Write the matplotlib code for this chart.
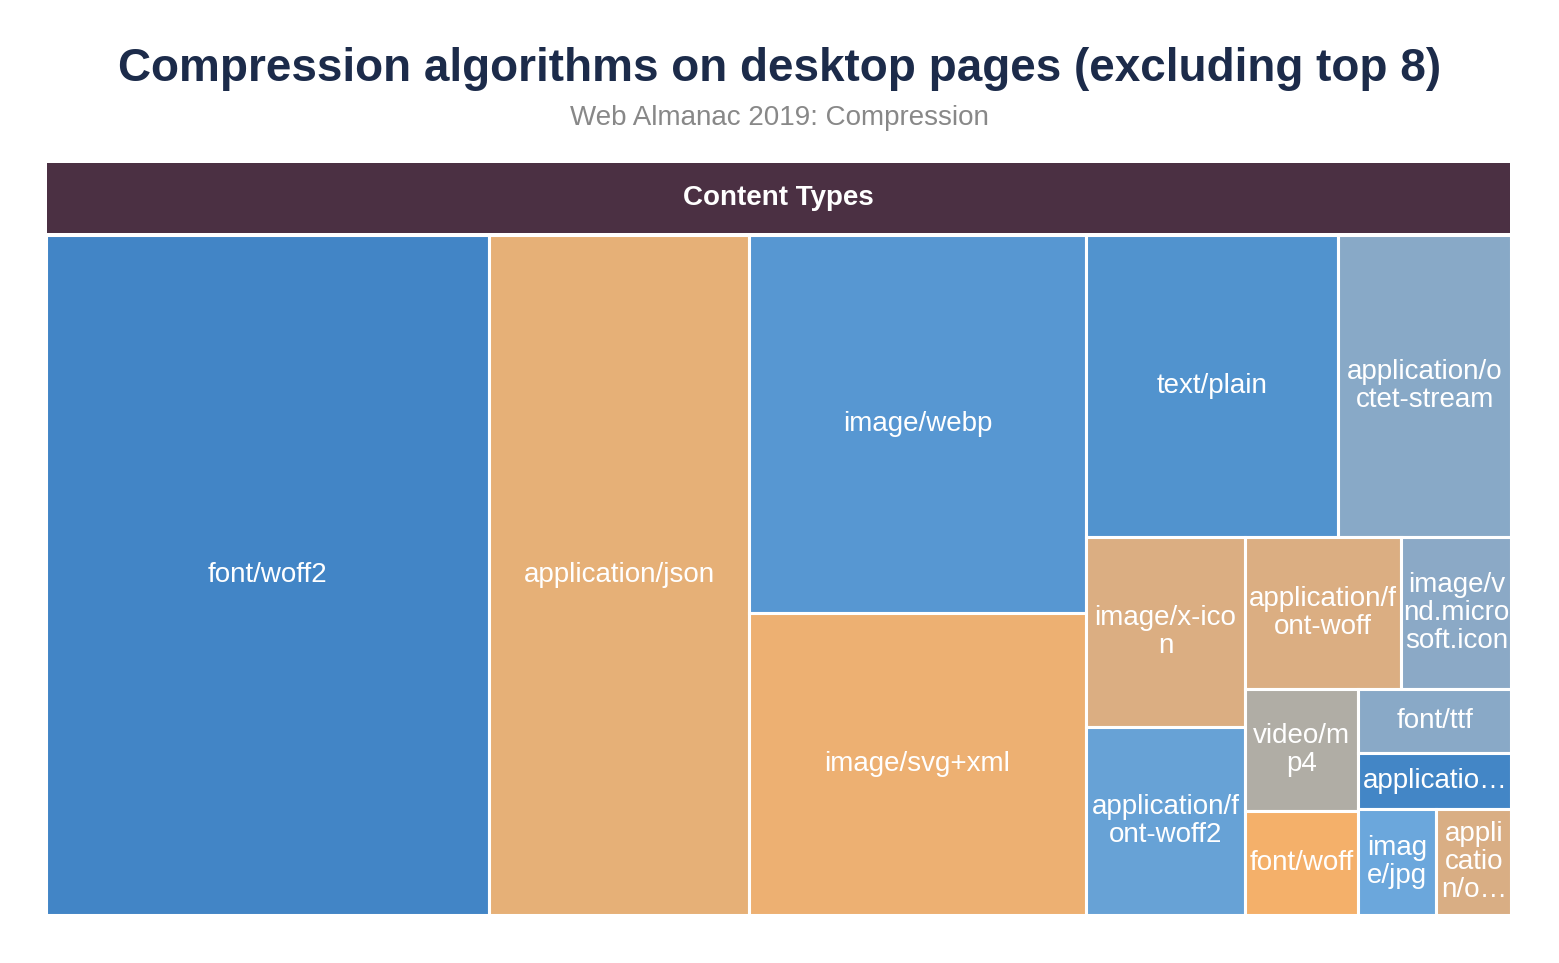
import matplotlib
matplotlib.use('Agg')
import matplotlib.pyplot as plt
import matplotlib.patches as patches

# ============================================================
# DATA
# ============================================================
TITLE = 'Compression algorithms on desktop pages (excluding top 8)'
SUBTITLE = 'Web Almanac 2019: Compression'
HEADER = 'Content Types'

content_types = [
    'font/woff2', 'application/json', 'image/webp', 'image/svg+xml',
    'text/plain', 'application/octet-stream', 'image/x-icon',
    'application/font-woff2', 'application/font-woff',
    'image/vnd.microsoft.icon', 'video/mp4', 'font/woff', 'font/ttf',
    'application/x-font-ttf', 'image/jpg', 'application/x-font-otf',
]
requests = [29968, 17628, 12667, 10114, 7585, 5207, 3021, 2973,
            2371, 1672, 1379, 1164, 979, 857, 819, 788]
# labels as they are wrapped / cut inside the cells
labels = [
    'font/woff2', 'application/json', 'image/webp', 'image/svg+xml',
    'text/plain', 'application/o\nctet-stream', 'image/x-ico\nn',
    'application/f\nont-woff2', 'application/f\nont-woff',
    'image/v\nnd.micro\nsoft.icon', 'video/m\np4', 'font/woff', 'font/ttf',
    'applicatio…', 'imag\ne/jpg', 'appli\ncatio\nn/o…',
]
colors = [
    '#4285c6', '#e6b077', '#5797d2', '#edb072', '#5193ce', '#88a9c7',
    '#dbae82', '#67a2d6', '#dbae82', '#8ba9c6', '#b0ada5', '#f4b06a',
    '#89a9c7', '#4386c6', '#6ba7dc', '#d9ae84',
]
# strips of the layout: ('col' = full height, 'row' = full width)
strips = [
    ('col', [0]), ('col', [1]), ('col', [2, 3]), ('row', [4, 5]),
    ('col', [6, 7]), ('row', [8, 9]), ('col', [10, 11]),
    ('row', [12]), ('row', [13]), ('row', [14, 15]),
]

W_PX, H_PX = 1559, 963
FONT = ['Liberation Sans', 'DejaVu Sans']


def strip_layout(values, strips, width, height):
    rects = {}
    x, y, w, h = 0.0, 0.0, width, height
    remaining = float(sum(values))
    for orient, idxs in strips:
        s = float(sum(values[i] for i in idxs))
        frac = s / remaining
        if orient == 'col':
            sw = w * frac
            cy = y
            for i in idxs:
                ih = h * values[i] / s
                rects[i] = (x, cy, sw, ih)
                cy += ih
            x += sw
            w -= sw
        else:
            sh = h * frac
            cx = x
            for i in idxs:
                iw = w * values[i] / s
                rects[i] = (cx, y, iw, sh)
                cx += iw
            y += sh
            h -= sh
        remaining -= s
    return rects


def fig_box(left, top, right, bottom):
    return [left / W_PX, 1 - bottom / H_PX, (right - left) / W_PX, (bottom - top) / H_PX]


fig = plt.figure(figsize=(W_PX / 100, H_PX / 100), dpi=100)
fig.patch.set_facecolor('white')

fig.text(0.5, 1 - 69 / H_PX, TITLE, ha='center', va='center',
         fontsize=33, fontweight='bold', color='#1c2b4a', family=FONT)
fig.text(0.5, 1 - 118 / H_PX, SUBTITLE, ha='center', va='center',
         fontsize=20, color='#888888', family=FONT)

# header bar
ax_h = fig.add_axes(fig_box(47, 163, 1510, 233))
ax_h.set_facecolor('#4b3043')
ax_h.set_xticks([])
ax_h.set_yticks([])
for sp in ax_h.spines.values():
    sp.set_visible(False)
ax_h.text(0.5, 0.5, HEADER, ha='center', va='center', transform=ax_h.transAxes,
          fontsize=20, fontweight='bold', color='white', family=FONT)

# treemap
left, top, right, bottom = 46, 235.5, 1511.5, 914.5
ax = fig.add_axes(fig_box(left, top, right, bottom))
aspect = (right - left) / (bottom - top)
ax.set_xlim(0, aspect)
ax.set_ylim(1, 0)
ax.axis('off')

rects = strip_layout(requests, strips, aspect, 1.0)
for i, name in enumerate(content_types):
    x, y, w, h = rects[i]
    ax.add_patch(patches.Rectangle((x, y), w, h, facecolor=colors[i],
                                   edgecolor='white', linewidth=2.2))
    ax.text(x + w / 2, y + h / 2, labels[i], ha='center', va='center',
            fontsize=20, color='white', family=FONT, linespacing=1.08)

plt.savefig('out.png', dpi=100)
plt.close()
